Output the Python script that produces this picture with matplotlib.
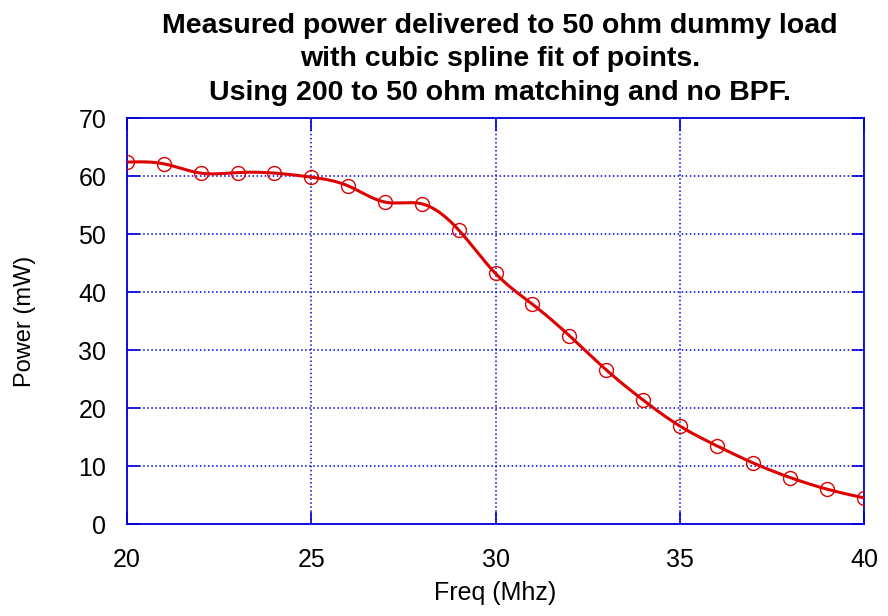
import numpy as np
import matplotlib
matplotlib.use('Agg')
from matplotlib import pyplot as plt

freq = [20, 21, 22, 23, 24, 25, 26, 27, 28, 29, 30, 31, 32, 33, 34, 35, 36, 37, 38, 39, 40]
power = [62.4, 62.1, 60.5, 60.6, 60.5, 59.8, 58.3, 55.5, 55.2, 50.7, 43.2, 37.9, 32.5, 26.6, 21.4, 16.9, 13.5, 10.5, 8.0, 6.0, 4.5]

title_lines = ['Measured power delivered to 50 ohm dummy load',
	'with cubic spline fit of points.',
	'Using 200 to 50 ohm matching and no BPF.']


def natural_spline(x, y, n=600):
	# natural cubic spline, same as gnuplot "smooth csplines"
	x = np.asarray(x, float)
	y = np.asarray(y, float)
	h = np.diff(x)
	m = len(x)
	A = np.zeros((m, m))
	b = np.zeros(m)
	A[0, 0] = A[-1, -1] = 1
	for i in range(1, m-1):
		A[i, i-1] = h[i-1]
		A[i, i] = 2*(h[i-1]+h[i])
		A[i, i+1] = h[i]
		b[i] = 6*((y[i+1]-y[i])/h[i] - (y[i]-y[i-1])/h[i-1])
	M = np.linalg.solve(A, b)
	xs = np.linspace(x[0], x[-1], n)
	idx = np.clip(np.searchsorted(x, xs) - 1, 0, m-2)
	x0, x1 = x[idx], x[idx+1]
	hh = x1 - x0
	t0 = x1 - xs
	t1 = xs - x0
	ys = (M[idx]*t0**3 + M[idx+1]*t1**3)/(6*hh) \
		+ (y[idx]/hh - M[idx]*hh/6)*t0 + (y[idx+1]/hh - M[idx+1]*hh/6)*t1
	return xs, ys


plt.rcParams['font.family'] = ['Liberation Sans', 'DejaVu Sans']
fig = plt.figure(figsize=(8.88, 6.16), dpi=100)
ax = fig.add_axes([127/888, 92/616, 737/888, 406/616])

blue = '#0000dd'
red = '#dd0000'

xs, ys = natural_spline(freq, power)
ax.plot(xs, ys, color=red, lw=2.2, zorder=3)
ax.plot(freq, power, 'o', mfc='none', mec=red, ms=10, mew=1.0, zorder=4)

ax.set_xlim(20, 40)
ax.set_ylim(0, 70)
ax.set_xticks(range(20, 41, 5))
ax.set_yticks(range(0, 71, 10))
ax.grid(True, color=blue, ls=':', lw=1.1)
ax.tick_params(direction='in', length=9, width=1.2, color=blue, labelsize=18,
	top=True, right=True)
ax.tick_params(axis='y', pad=15)
ax.tick_params(axis='x', pad=17)
for s in ax.spines.values():
	s.set_color(blue)
	s.set_linewidth(1.3)

ax.set_xlabel('Freq (Mhz)', fontsize=18, va='center')
ax.set_ylabel('Power (mW)', fontsize=17, va='center')
ax.xaxis.set_label_coords(0.5, (524-593)/406)
ax.yaxis.set_label_coords((25-127)/737, 0.5)

for i, line in enumerate(title_lines):
	fig.text(500/888, 1 - (26 + 33.5*i)/616, line, ha='center', va='center',
		fontsize=20.5, fontweight='bold')

plt.savefig('out.png', dpi=100)
